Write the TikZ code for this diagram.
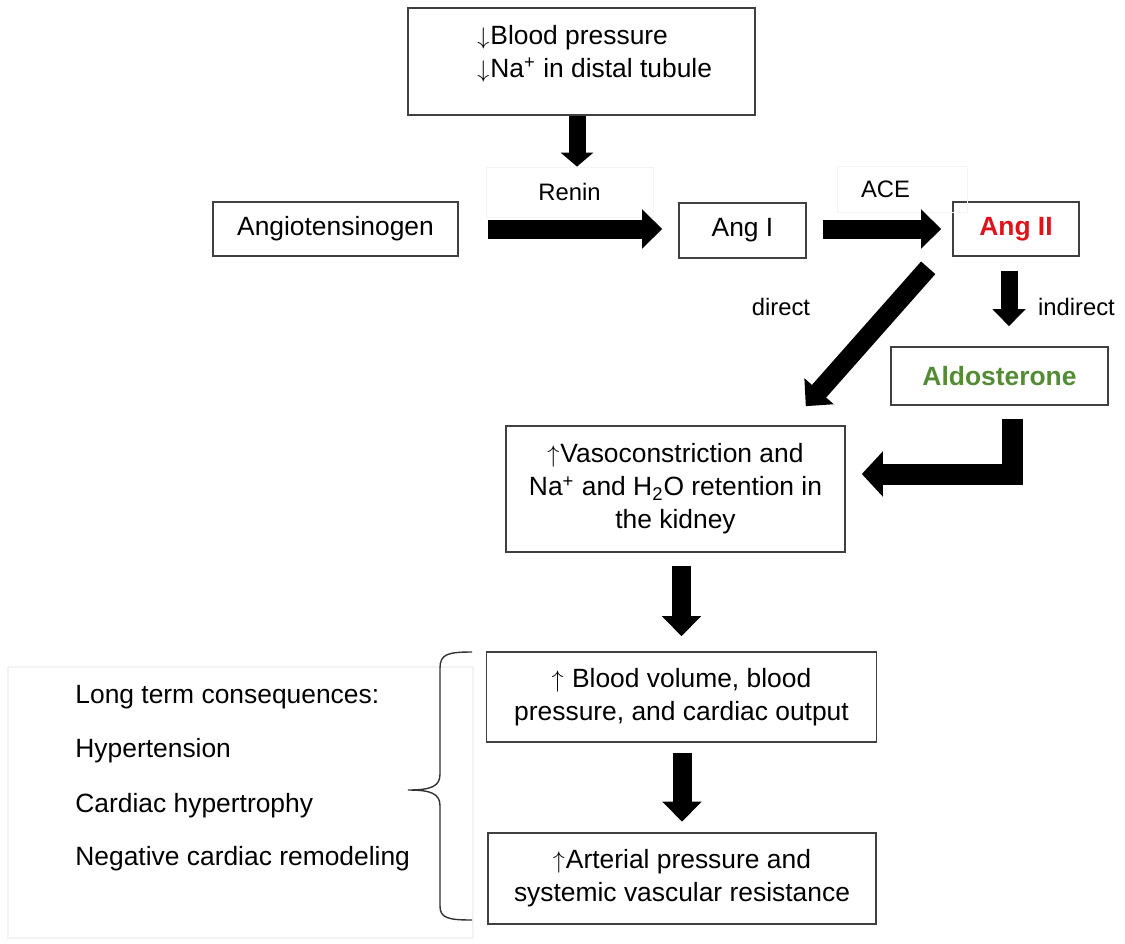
\documentclass[tikz,border=0pt]{standalone}
\usepackage{fontspec}
\setmainfont{Liberation Sans}
\usetikzlibrary{arrows.meta,positioning,calc}
\definecolor{angred}{RGB}{222,20,28}
\definecolor{aldogreen}{RGB}{84,140,54}
\definecolor{faint}{RGB}{243,243,243}
\newcommand{\dn}{$\downarrow$\kern0.5pt}
\newcommand{\up}{$\uparrow$\kern0.5pt}

\begin{document}
\begin{tikzpicture}[
  x=0.5pt, y=-0.5pt,
  every node/.style={font=\fontsize{13.2}{16.5}\selectfont},
  box/.style={draw=black!75, line width=0.8pt, align=center, inner sep=0pt},
  lbl/.style={font=\fontsize{11.9}{14}\selectfont, inner sep=0pt},
  fat/.style={line width=9.5pt, -{Triangle[length=10pt,width=19pt]}},
]
\useasboundingbox (0,0) rectangle (1125,943);

% faint frame round the list
\draw[faint, line width=0.6pt] (8,667) rectangle (473,938);

\node[box, minimum width=173.5pt, minimum height=53.5pt] (bp) at (581.5,61.5) {};
\node[align=left, anchor=north west, inner sep=0pt] (bptext) at (477,25)
   {\dn Blood pressure\\\dn Na\textsuperscript{+} in distal tubule};

\node[box, minimum width=122.5pt, minimum height=27pt]   (agt)  at (335.5,229) {Angiotensinogen};
\node[box, minimum width=63.5pt,  minimum height=27.5pt] (ang1) at (742.5,230.5) {Ang I};
\node[box, minimum width=63pt,    minimum height=27pt, text=angred,
      font=\fontsize{13.2}{16.5}\selectfont\bfseries]    (ang2) at (1016,229) {Ang II};
\node[box, minimum width=108.5pt, minimum height=29pt, text=aldogreen,
      font=\fontsize{13.2}{16.5}\selectfont\bfseries]    (aldo) at (999.5,376) {Aldosterone};

\node[box, minimum width=169.5pt, minimum height=63pt] (vaso) at (675.5,489)
   {\up Vasoconstriction and\\Na\textsuperscript{+} and H\textsubscript{2}O retention in\\the kidney};
\node[box, minimum width=195pt, minimum height=45pt] (bv) at (681.5,697)
   {\up\ Blood volume, blood\\pressure, and cardiac output};
\node[box, minimum width=194pt, minimum height=45.5pt] (ap) at (682,878.5)
   {\up Arterial pressure and\\systemic vascular resistance};

% enzyme and route labels
\node[lbl, draw=faint, minimum width=83.5pt, minimum height=25pt] (renin) at (569.5,192) {Renin};
\node[lbl, draw=faint, minimum height=23pt, align=left, text width=41pt,
      inner xsep=12pt] (ace) at (902,189) {ACE};
\node[lbl] (direct)   at (781,307)    {direct};
\node[lbl] (indirect) at (1076.5,307) {indirect};

\foreach \txt/\yy [count=\i] in {Long term consequences:/703, Hypertension/757,
                                 Cardiac hypertrophy/812, Negative cardiac remodeling/865}
  \node[anchor=base west, inner sep=0pt] (cons\i) at (75,\yy) {\txt};

% block arrows
\draw[fat, line width=8.5pt, -{Triangle[length=7pt,width=16pt]}]
  ([xshift=-2.25pt]bp.south) -- ([xshift=-2.25pt]bp.south |- renin.north);
\draw[fat, shorten <=14.5pt, shorten >=8pt] (agt.east) -- (agt.east -| ang1.west);
\draw[fat, shorten <=8pt, shorten >=5.5pt] (ang1.east |- ang2.west) -- (ang2.west);
\draw[fat] ($(ang2.south west)+(-24,11)$) -- ($(vaso.north east)+(-40,-19)$);
\draw[fat, line width=8.5pt, -{Triangle[length=8.5pt,width=16pt]}, shorten <=7pt, shorten >=10pt]
  ([xshift=-3.5pt]ang2.south) -- ([xshift=-3.5pt]ang2.south |- aldo.north);
\draw[fat, line width=10.5pt, -{Triangle[length=10.5pt,width=22pt]}, shorten <=6.5pt, shorten >=8pt]
  ([xshift=6.25pt]aldo.south) |- ([yshift=7.5pt]vaso.east);
\draw[fat, shorten <=6.5pt, shorten >=7.5pt] (bv.north |- vaso.south) -- (bv.north);
\draw[fat, shorten <=5pt, shorten >=5.25pt] (ap.north |- bv.south) -- (ap.north);

% brace
\draw[black!80, line width=0.7pt]
  (472,652) .. controls (448,652) and (440,654) .. (440,668) -- (440,774)
  .. controls (440,786) and (432,790) .. (408,790)
  .. controls (432,790) and (440,794) .. (440,806) -- (440,906)
  .. controls (440,918) and (448,920) .. (472,920);
\end{tikzpicture}
\end{document}
